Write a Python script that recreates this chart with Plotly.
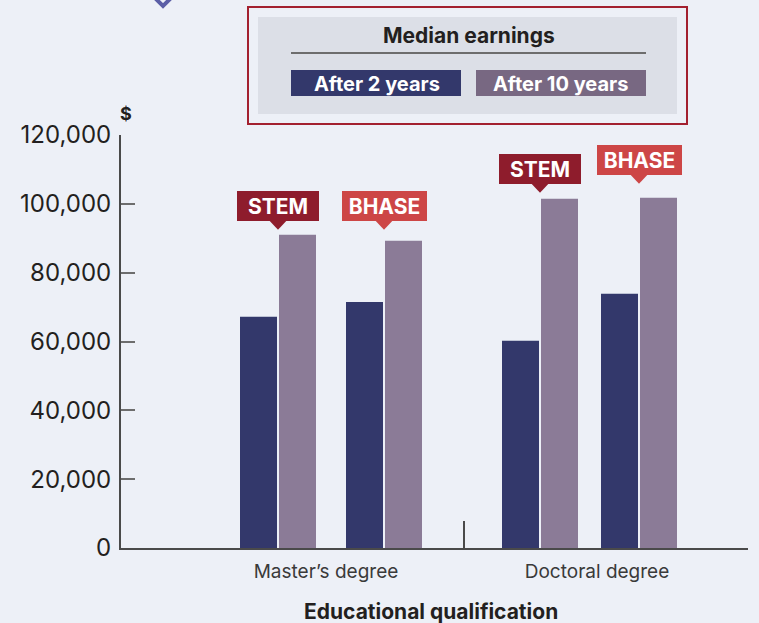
import plotly.graph_objects as go

# ---------------- data ----------------
degrees = ["Master’s degree", "Doctoral degree"]
fields = ["STEM", "BHASE"]
after_2_years = [67200, 71500, 60200, 73900]      # Master STEM, Master BHASE, Doctoral STEM, Doctoral BHASE
after_10_years = [91000, 89300, 101500, 101800]
series_names = ["After 2 years", "After 10 years"]
y_ticks = [0, 20000, 40000, 60000, 80000, 100000, 120000]

# ---------------- layout constants ----------------
W, H = 759, 623
L, R, T, B = 121, 11, 135, 75
PW, PH = W - L - R, H - T - B
X_RANGE = [0, PW]
DEG_START = [157, 419]
FIELD_GAP = [106, 99]
BAR_W = 37
LABEL_GAP = [14, 20, 15, 23]
LABEL_W = [82, 85]
DEG_LABEL_X = [205, 476]
SEPARATOR_X = 343

C_DARK = "#33386b"
C_LIGHT = "#8b7b97"
C_LIGHT_LEG = "#786882"
C_STEM = "#8e1c2c"
C_BHASE = "#cd4646"
BG = "#edf0f7"
FONT = "Inter"

def px2x(px):
    return (px - L) / PW

def py2y(py):
    return (H - B - py) / PH

positions = []
labels_field = []
for d in range(len(degrees)):
    for f in range(len(fields)):
        positions.append(DEG_START[d] + f * FIELD_GAP[d])
        labels_field.append(f)

fig = go.Figure()
fig.add_trace(go.Bar(x=positions, y=after_2_years, name=series_names[0],
                     width=BAR_W, offset=-BAR_W - 1, marker_color=C_DARK,
                     marker_line_width=0))
fig.add_trace(go.Bar(x=positions, y=after_10_years, name=series_names[1],
                     width=BAR_W, offset=1, marker_color=C_LIGHT,
                     marker_line_width=0))

annotations = []
shapes = []

# STEM / BHASE flags
for i, (p, v) in enumerate(zip(positions, after_10_years)):
    f = labels_field[i]
    col = C_STEM if f == 0 else C_BHASE
    gap = LABEL_GAP[i]
    annotations.append(dict(x=p, y=v, xref="x", yref="y", yshift=gap,
                            xanchor="center", yanchor="bottom",
                            text="<b>" + fields[f] + "</b>", showarrow=False,
                            font=dict(family=FONT, size=21, color="white"),
                            bgcolor=col, width=LABEL_W[f], height=30,
                            borderpad=0, borderwidth=0))
    shapes.append(dict(type="path", xref="x", yref="y",
                       xsizemode="pixel", ysizemode="pixel",
                       xanchor=p, yanchor=v,
                       path=f"M -8.5 {gap} L 8.5 {gap} L 0 {gap - 9} Z",
                       fillcolor=col, line=dict(width=0)))

# legend box
shapes.append(dict(type="rect", xref="paper", yref="paper",
                   x0=px2x(258), x1=px2x(677), y0=py2y(114), y1=py2y(17),
                   fillcolor="#dcdfe7", line=dict(width=0), layer="below"))
shapes.append(dict(type="rect", xref="paper", yref="paper",
                   x0=px2x(248), x1=px2x(687), y0=py2y(124), y1=py2y(7),
                   fillcolor="rgba(0,0,0,0)", line=dict(color="#a3202f", width=2)))
shapes.append(dict(type="line", xref="paper", yref="paper",
                   x0=px2x(291), x1=px2x(646), y0=py2y(53), y1=py2y(53),
                   line=dict(color="#6d6d6d", width=2)))
shapes.append(dict(type="rect", xref="paper", yref="paper",
                   x0=px2x(291), x1=px2x(461), y0=py2y(96), y1=py2y(70),
                   fillcolor=C_DARK, line=dict(width=0)))
shapes.append(dict(type="rect", xref="paper", yref="paper",
                   x0=px2x(476), x1=px2x(646), y0=py2y(96), y1=py2y(70),
                   fillcolor=C_LIGHT_LEG, line=dict(width=0)))
annotations.append(dict(x=px2x(469), y=py2y(36), xref="paper", yref="paper",
                        text="<b>Median earnings</b>", showarrow=False,
                        xanchor="center", yanchor="middle",
                        font=dict(family=FONT, size=21, color="#231f20")))
annotations.append(dict(x=px2x(377), y=py2y(84), xref="paper", yref="paper",
                        text="<b>" + series_names[0] + "</b>", showarrow=False,
                        xanchor="center", yanchor="middle",
                        font=dict(family=FONT, size=20, color="white")))
annotations.append(dict(x=px2x(560), y=py2y(84), xref="paper", yref="paper",
                        text="<b>" + series_names[1] + "</b>", showarrow=False,
                        xanchor="center", yanchor="middle",
                        font=dict(family=FONT, size=20, color="white")))

# diamond decoration at top
cx, cy, hs = 163, -5, 11
shapes.append(dict(type="path", xref="paper", yref="paper",
                   path=f"M {px2x(cx)} {py2y(cy - hs)} L {px2x(cx + hs)} {py2y(cy)} "
                        f"L {px2x(cx)} {py2y(cy + hs)} L {px2x(cx - hs)} {py2y(cy)} Z",
                   fillcolor="rgba(0,0,0,0)", line=dict(color="#5b5ea6", width=4)))

# $ unit label
annotations.append(dict(x=px2x(126), y=py2y(113), xref="paper", yref="paper",
                        text="<b>$</b>", showarrow=False,
                        xanchor="center", yanchor="middle",
                        font=dict(family=FONT, size=18, color="#231f20")))
# x axis title
annotations.append(dict(x=px2x(431), y=py2y(611), xref="paper", yref="paper",
                        text="<b>Educational qualification</b>", showarrow=False,
                        xanchor="center", yanchor="middle",
                        font=dict(family=FONT, size=21, color="#231f20")))

fig.update_layout(
    width=W, height=H,
    margin=dict(l=L, r=R, t=T, b=B, pad=0),
    paper_bgcolor=BG, plot_bgcolor=BG,
    showlegend=False,
    barmode="overlay",
    font=dict(family=FONT, color="#231f20"),
    shapes=shapes,
    annotations=annotations,
    xaxis=dict(range=X_RANGE, showgrid=False, zeroline=False,
               showline=True, linecolor="#4a4a4a", linewidth=2,
               tickmode="array", tickvals=DEG_LABEL_X, ticktext=degrees,
               ticks="", ticklabelstandoff=5,
               tickfont=dict(family=FONT, size=19, color="#3a3a3a"),
               minor=dict(tickmode="array", tickvals=[SEPARATOR_X], ticks="inside",
                          ticklen=27, tickwidth=1.5, tickcolor="#4a4a4a"),
               fixedrange=True),
    yaxis=dict(range=[0, 120000], showgrid=False, zeroline=False,
               showline=True, linecolor="#4a4a4a", linewidth=2,
               tickmode="array", tickvals=y_ticks, tickformat=",",
               ticks="inside", ticklen=14, tickwidth=1.5, tickcolor="#6d6d6d",
               ticklabelstandoff=3,
               tickfont=dict(family=FONT, size=24, color="#231f20"),
               fixedrange=True),
)

fig.write_html("out.html", config={"displayModeBar": False},
               post_script="document.body.style.margin='0';document.body.style.background='" + BG + "';")
